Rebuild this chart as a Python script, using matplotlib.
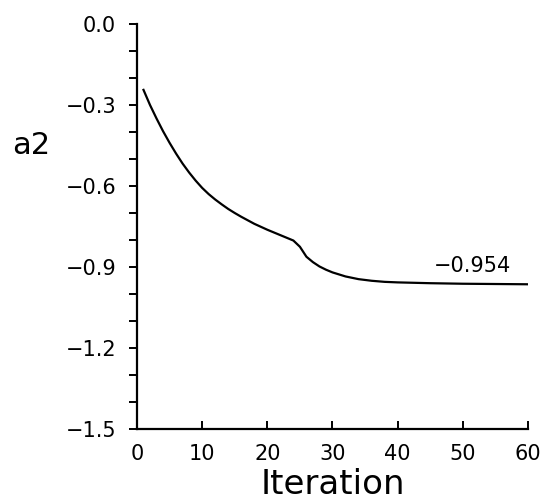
import matplotlib
matplotlib.use("Agg")
import matplotlib.pyplot as plt
from matplotlib.ticker import MultipleLocator

plt.rcParams['font.family'] = ['DejaVu Sans']

iterations = [1, 2, 3, 4, 5, 6, 7, 8, 9, 10, 11, 12, 13, 14, 15, 16, 17, 18, 19, 20,
              21, 22, 23, 24, 25, 26, 27, 28, 29, 30, 32, 34, 36, 38, 40, 45, 50, 55, 60]
a2_values = [-0.244, -0.300, -0.350, -0.397, -0.440, -0.480, -0.517, -0.550, -0.580, -0.607,
             -0.630, -0.650, -0.668, -0.685, -0.700, -0.714, -0.727, -0.740, -0.751, -0.762,
             -0.772, -0.782, -0.792, -0.802, -0.825, -0.862, -0.882, -0.898, -0.910, -0.920,
             -0.935, -0.945, -0.951, -0.955, -0.957, -0.960, -0.962, -0.963, -0.964]
final_label = "\u22120.954"
x_ticks = [0, 10, 20, 30, 40, 50, 60]
y_ticks = [-1.5, -1.2, -0.9, -0.6, -0.3, 0.0]

fig = plt.figure(figsize=(5.44, 5.0), dpi=100)
ax = fig.add_axes([0.2518, 0.142, 0.7188, 0.810])

ax.plot(iterations, a2_values, color='black', lw=1.6)
ax.text(45.6, -0.919, final_label, fontsize=15, ha='left', va='baseline')

ax.set_xlim(0, 60)
ax.set_ylim(-1.5, 0.0)
ax.set_xticks(x_ticks)
ax.set_yticks(y_ticks)
ax.set_yticklabels([f"{v:.1f}".replace("-", "\u2212") for v in y_ticks])
ax.yaxis.set_minor_locator(MultipleLocator(0.1))

for s in ['top', 'right']:
    ax.spines[s].set_visible(False)
for s in ['left', 'bottom']:
    ax.spines[s].set_linewidth(1.6)

ax.tick_params(axis='y', which='major', direction='out', length=6, width=1.4, labelsize=15, pad=9)
ax.tick_params(axis='y', which='minor', direction='out', length=6, width=1.4)
ax.tick_params(axis='x', which='major', direction='in', length=6, width=1.4, labelsize=15, pad=11)

ax.set_xlabel("Iteration", fontsize=24.5, labelpad=3)
ax.set_ylabel("a2", fontsize=22, rotation=0, va='center', ha='center')
ax.yaxis.set_label_coords(-0.27, 0.70)

fig.savefig("out.png", dpi=100)
